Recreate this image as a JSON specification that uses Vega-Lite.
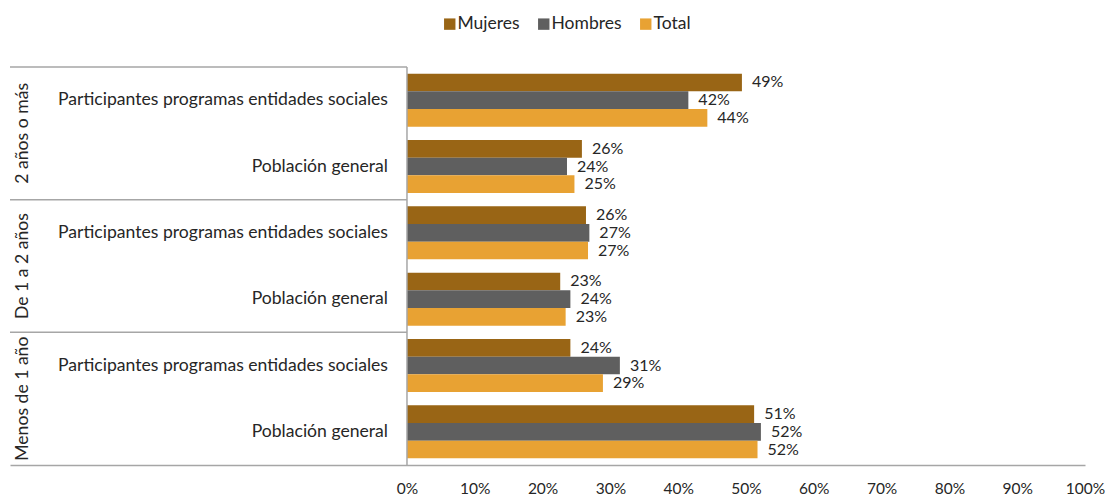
{
  "$schema": "https://vega.github.io/schema/vega-lite/v6.json",
  "width": 1075,
  "height": 398,
  "autosize": {"type": "none"},
  "padding": {"left": 10, "top": 67, "right": 20, "bottom": 33},
  "background": "white",
  "config": {
    "view": {"stroke": null},
    "font": "Lato",
    "text": {"color": "#262626"}
  },
  "datasets": {
    "barras": [
      {"grupo": "2 años o más", "sub": "Participantes programas entidades sociales", "categoria": "2 años o más / Participantes programas entidades sociales", "serie": "Mujeres", "valor": 0.494},
      {"grupo": "2 años o más", "sub": "Participantes programas entidades sociales", "categoria": "2 años o más / Participantes programas entidades sociales", "serie": "Hombres", "valor": 0.415},
      {"grupo": "2 años o más", "sub": "Participantes programas entidades sociales", "categoria": "2 años o más / Participantes programas entidades sociales", "serie": "Total", "valor": 0.443},
      {"grupo": "2 años o más", "sub": "Población general", "categoria": "2 años o más / Población general", "serie": "Mujeres", "valor": 0.258},
      {"grupo": "2 años o más", "sub": "Población general", "categoria": "2 años o más / Población general", "serie": "Hombres", "valor": 0.236},
      {"grupo": "2 años o más", "sub": "Población general", "categoria": "2 años o más / Población general", "serie": "Total", "valor": 0.247},
      {"grupo": "De 1 a 2 años", "sub": "Participantes programas entidades sociales", "categoria": "De 1 a 2 años / Participantes programas entidades sociales", "serie": "Mujeres", "valor": 0.264},
      {"grupo": "De 1 a 2 años", "sub": "Participantes programas entidades sociales", "categoria": "De 1 a 2 años / Participantes programas entidades sociales", "serie": "Hombres", "valor": 0.269},
      {"grupo": "De 1 a 2 años", "sub": "Participantes programas entidades sociales", "categoria": "De 1 a 2 años / Participantes programas entidades sociales", "serie": "Total", "valor": 0.267},
      {"grupo": "De 1 a 2 años", "sub": "Población general", "categoria": "De 1 a 2 años / Población general", "serie": "Mujeres", "valor": 0.226},
      {"grupo": "De 1 a 2 años", "sub": "Población general", "categoria": "De 1 a 2 años / Población general", "serie": "Hombres", "valor": 0.241},
      {"grupo": "De 1 a 2 años", "sub": "Población general", "categoria": "De 1 a 2 años / Población general", "serie": "Total", "valor": 0.234},
      {"grupo": "Menos de 1 año", "sub": "Participantes programas entidades sociales", "categoria": "Menos de 1 año / Participantes programas entidades sociales", "serie": "Mujeres", "valor": 0.241},
      {"grupo": "Menos de 1 año", "sub": "Participantes programas entidades sociales", "categoria": "Menos de 1 año / Participantes programas entidades sociales", "serie": "Hombres", "valor": 0.314},
      {"grupo": "Menos de 1 año", "sub": "Participantes programas entidades sociales", "categoria": "Menos de 1 año / Participantes programas entidades sociales", "serie": "Total", "valor": 0.289},
      {"grupo": "Menos de 1 año", "sub": "Población general", "categoria": "Menos de 1 año / Población general", "serie": "Mujeres", "valor": 0.512},
      {"grupo": "Menos de 1 año", "sub": "Población general", "categoria": "Menos de 1 año / Población general", "serie": "Hombres", "valor": 0.522},
      {"grupo": "Menos de 1 año", "sub": "Población general", "categoria": "Menos de 1 año / Población general", "serie": "Total", "valor": 0.517}
    ],
    "grupos": [
      {"grupo": "2 años o más"},
      {"grupo": "De 1 a 2 años"},
      {"grupo": "Menos de 1 año"}
    ]
  },
  "layer": [
    {
      "data": {"name": "barras"},
      "layer": [
        {
          "mark": {"type": "bar"},
          "encoding": {
            "y": {"field": "categoria", "type": "nominal", "sort": null, "scale": {"paddingInner": 0.2, "paddingOuter": 0.1}, "axis": null},
            "yOffset": {"field": "serie", "type": "nominal", "sort": ["Mujeres", "Hombres", "Total"], "scale": {"paddingInner": 0, "paddingOuter": 0}},
            "x": {
              "field": "valor", "type": "quantitative",
              "scale": {"domain": [-0.5855, 1], "nice": false, "zero": false},
              "axis": {
                "values": [0, 0.1, 0.2, 0.3, 0.4, 0.5, 0.6, 0.7, 0.8, 0.9, 1],
                "format": ".0%", "title": null, "grid": false,
                "ticks": false, "tickSize": 0, "labelPadding": 16, "labelFlush": false,
                "domainColor": "#a6a6a6", "domainWidth": 1.5,
                "labelFontSize": 15.5, "labelColor": "#262626", "labelFont": "Lato"
              }
            },
            "color": {
              "field": "serie", "type": "nominal",
              "scale": {"domain": ["Mujeres", "Hombres", "Total"], "range": ["#996515", "#5f5f5f", "#e8a233"]},
              "legend": {
                "orient": "none", "legendX": 431, "legendY": -52, "direction": "horizontal",
                "title": null, "symbolType": "square", "symbolSize": 130, "symbolStrokeWidth": 0,
                "labelFontSize": 17.5, "labelColor": "#262626", "labelFont": "Lato", "labelOffset": -1,
                "columnPadding": 15, "padding": 0
              }
            }
          }
        },
        {
          "mark": {"type": "text", "align": "left", "baseline": "middle", "dx": 10, "fontSize": 16},
          "encoding": {
            "y": {"field": "categoria", "type": "nominal", "sort": null},
            "yOffset": {"field": "serie", "type": "nominal", "sort": ["Mujeres", "Hombres", "Total"]},
            "x": {"field": "valor", "type": "quantitative"},
            "text": {"field": "valor", "format": ".0%"}
          }
        },
        {
          "transform": [{"filter": "datum.serie == 'Total'"}],
          "mark": {"type": "text", "align": "right", "baseline": "middle", "dx": -19, "fontSize": 17.6},
          "encoding": {
            "y": {"field": "categoria", "type": "nominal", "sort": null},
            "x": {"datum": 0},
            "text": {"field": "sub"}
          }
        }
      ]
    },
    {
      "data": {"name": "grupos"},
      "layer": [
        {
          "mark": {"type": "rule", "color": "#a6a6a6", "strokeWidth": 1.5},
          "encoding": {
            "y": {"field": "grupo", "type": "nominal", "sort": null, "bandPosition": 0, "scale": {"paddingInner": 0, "paddingOuter": 0}, "axis": null},
            "x": {"datum": -0.5855},
            "x2": {"datum": 0}
          }
        },
        {
          "mark": {"type": "text", "angle": 270, "align": "center", "baseline": "middle", "fontSize": 17.6},
          "encoding": {
            "y": {"field": "grupo", "type": "nominal", "sort": null},
            "x": {"datum": -0.566},
            "text": {"field": "grupo"}
          }
        }
      ]
    },
    {
      "data": {"values": [{}]},
      "mark": {"type": "rule", "color": "#a6a6a6", "strokeWidth": 1.5},
      "encoding": {"x": {"datum": 0}}
    }
  ],
  "resolve": {"scale": {"y": "independent"}}
}
